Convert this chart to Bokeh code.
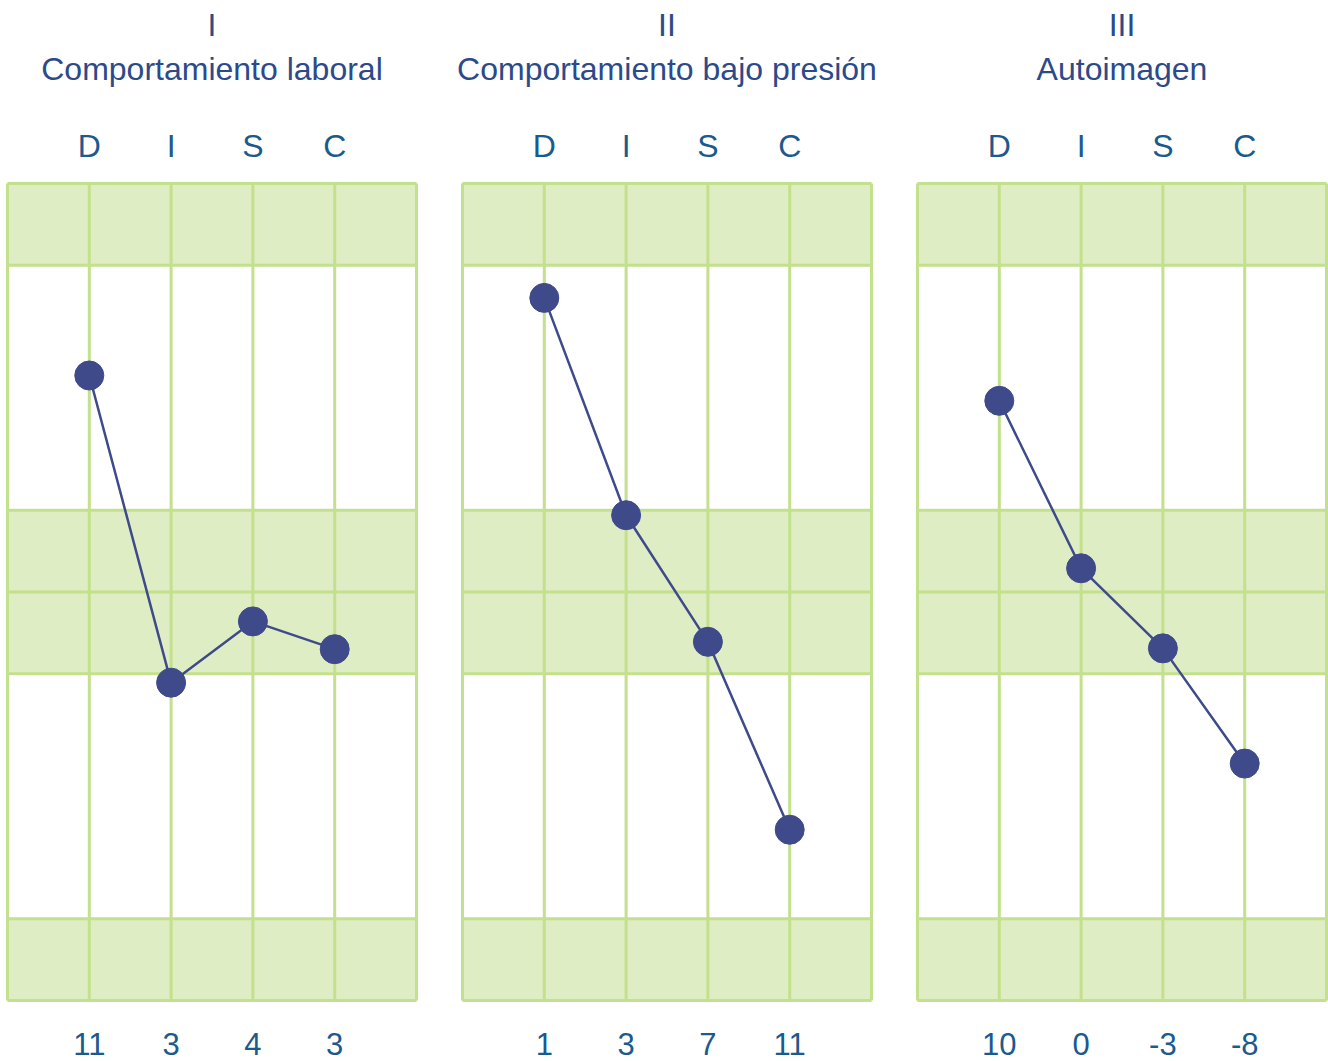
from bokeh.plotting import figure
from bokeh.layouts import row
from bokeh.core.properties import value
from bokeh.embed import file_html
from bokeh.resources import INLINE

# ---- data ----
panel_numerals = ["I", "II", "III"]
panel_titles = ["Comportamiento laboral", "Comportamiento bajo presión", "Autoimagen"]
factors = ["D", "I", "S", "C"]
factor_pos = [1, 2, 3, 4]
scores = [["11", "3", "4", "3"], ["1", "3", "7", "11"], ["10", "0", "-3", "-8"]]
levels = [
    [7.65, 3.89, 4.64, 4.30],
    [8.60, 5.94, 4.39, 2.09],
    [7.34, 5.29, 4.31, 2.90],
]
band_bottom = [0, 4, 9]
band_top = [1, 6, 10]
h_lines = [0, 1, 4, 5, 6, 9, 10]
v_lines = [0, 1, 2, 3, 4, 5]

# ---- style / layout ----
GREEN_FILL = "#dfedc4"
GREEN_LINE = "#c3e08c"
DOT = "#3e4a8a"
TITLE_COLOR = "#2c4a8a"
LETTER_COLOR = "#1b5a8c"
FONT = "Liberation Sans"

PANEL_W, PANEL_H = 409, 817        # grid size in px (5 x 10 units)
TOP, BOTTOM = 183, 61               # px above / below the grid
PX_X = PANEL_W / 5.0
PX_Y = PANEL_H / 10.0
sides = [(7, 23), (23, 23), (23, 2)]

def ypos(px_from_top):
    return (TOP + PANEL_H - px_from_top) / PX_Y

figs = []
for k in range(3):
    left, right = sides[k]
    w = left + PANEL_W + right
    h = TOP + PANEL_H + BOTTOM
    p = figure(width=w, height=h,
               x_range=(-left / PX_X, 5 + right / PX_X),
               y_range=(-BOTTOM / PX_Y, 10 + TOP / PX_Y),
               output_backend="svg", toolbar_location=None,
               x_axis_location=None, y_axis_location=None, min_border=0,
               background_fill_color="white", border_fill_color="white")
    p.xgrid.visible = False
    p.ygrid.visible = False
    p.outline_line_color = None

    p.quad(left=0, right=5, bottom=band_bottom, top=band_top,
           fill_color=GREEN_FILL, line_color=None)
    p.segment(x0=0, x1=5, y0=h_lines, y1=h_lines, line_color=GREEN_LINE, line_width=3)
    p.segment(x0=v_lines, x1=v_lines, y0=0, y1=10, line_color=GREEN_LINE, line_width=3)

    p.line(x=factor_pos, y=levels[k], line_color=DOT, line_width=2.5)
    p.scatter(x=factor_pos, y=levels[k], size=29, fill_color=DOT, line_color=DOT)

    p.text(x=[2.5, 2.5], y=[ypos(24), ypos(68)],
           text=[panel_numerals[k], panel_titles[k]],
           text_align="center", text_baseline="middle",
           text_font=value(FONT), text_font_size="32px", text_color=TITLE_COLOR)
    p.text(x=factor_pos, y=[ypos(145)] * 4, text=factors,
           text_align="center", text_baseline="middle",
           text_font=value(FONT), text_font_size="32px", text_color=LETTER_COLOR)
    p.text(x=factor_pos, y=[ypos(1043)] * 4, text=scores[k],
           text_align="center", text_baseline="middle",
           text_font=value(FONT), text_font_size="31px", text_color=LETTER_COLOR)
    figs.append(p)

layout = row(*figs)
open("out.html", "w").write(file_html(layout, INLINE))
